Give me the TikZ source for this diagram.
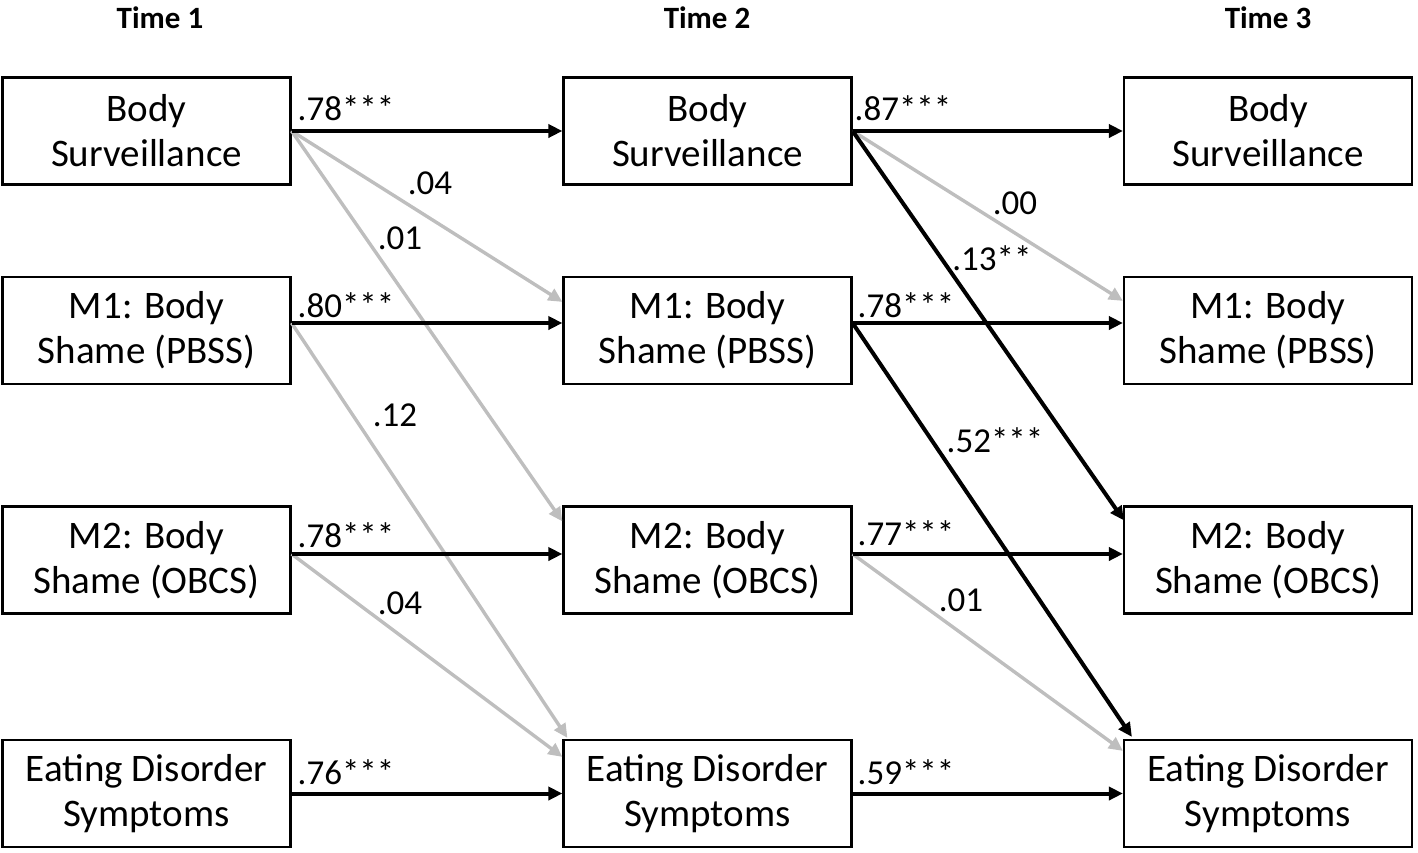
\documentclass[tikz,border=0pt]{standalone}
\usepackage{fontspec}
\setmainfont{Carlito}
\usetikzlibrary{arrows.meta}
\definecolor{lightpath}{RGB}{190,190,190}
\tikzset{
  box/.style={draw=black, line width=1.1pt, minimum width=144pt, minimum height=53.5pt, align=center, inner sep=0pt, font=\fontsize{19.5}{22.5}\selectfont},
  coef/.style={font=\fontsize{17.5}{20}\selectfont, inner sep=0pt},
  ttl/.style={font=\fontsize{15.5}{18}\selectfont\bfseries, inner sep=0pt},
  blk/.style={draw=black, line width=2pt, -{Triangle[length=7pt,width=6.5pt]}},
  gry/.style={draw=lightpath, line width=1.7pt, -{Triangle[length=7pt,width=6.5pt]}, color=lightpath},
}
\begin{document}
\begin{tikzpicture}[x=0.5pt,y=-0.5pt]
\useasboundingbox (0,0) rectangle (1418,852);
% titles
\node[ttl] (t1) at (160,18) {Time 1};
\node[ttl] (t2) at (707,18) {Time 2};
\node[ttl] (t3) at (1268,18) {Time 3};
% boxes
\foreach \c/\x in {a/146.5,b/707.5,c/1268}{
  \node[box] (\c1) at (\x,131) {Body\\Surveillance};
  \node[box] (\c2) at (\x,330.5) {M1: Body\\Shame (PBSS)};
  \node[box] (\c3) at (\x,560) {M2: Body\\Shame (OBCS)};
  \node[box] (\c4) at (\x,793.5) {Eating Disorder\\Symptoms};
}
% anchor points (y offsets relative to centre)
\foreach \c in {a,b,c}{
  \coordinate (\c1o) at (\c1.east);
  \coordinate (\c2o) at ([yshift=3.75pt]\c2.east);
  \coordinate (\c3o) at ([yshift=3pt]\c3.east);
  \coordinate (\c4o) at (\c4.east);
  \coordinate (\c1i) at (\c1.west);
  \coordinate (\c2i) at ([yshift=3.75pt]\c2.west);
  \coordinate (\c3i) at ([yshift=3pt]\c3.west);
  \coordinate (\c4i) at (\c4.west);
}
% diagonal entry points
\coordinate (b2d) at ([yshift=-13pt]b2.north west);
\coordinate (b3d) at ([yshift=-8pt]b3.north west);
\coordinate (b4d1) at ([xshift=2.5pt,yshift=0.5pt]b4.north west);
\coordinate (b4d2) at ([yshift=-9pt]b4.north west);
\coordinate (c2d) at ([yshift=-12.5pt]c2.north west);
\coordinate (c3d) at ([xshift=0.5pt,yshift=-7.5pt]c3.north west);
\coordinate (c4d1) at ([xshift=4.5pt,yshift=1pt]c4.north west);
\coordinate (c4d2) at ([yshift=-6pt]c4.north west);
% gray paths
\draw[gry] (a1o) -- (b2d);
\draw[gry] (a1o) -- (b3d);
\draw[gry] (a2o) -- (b4d1);
\draw[gry] (a3o) -- (b4d2);
\draw[gry] (b1o) -- (c2d);
\draw[gry] (b3o) -- (c4d2);
% black paths
\draw[blk] (b1o) -- (c3d);
\draw[blk] (b2o) -- (c4d1);
\foreach \r in {1,2,3,4}{
  \draw[blk] (a\r o) -- (b\r i);
  \draw[blk] (b\r o) -- (c\r i);
}
% coefficients
\node[coef] (l1) at (346,108) {.78***};
\node[coef] (l2) at (903,108) {.87***};
\node[coef] (l3) at (430,183) {.04};
\node[coef] (l4) at (400,238) {.01};
\node[coef] (l5) at (1015,203) {.00};
\node[coef] (l6) at (992,258) {.13**};
\node[coef] (l7) at (346,305) {.80***};
\node[coef] (l8) at (906,305) {.78***};
\node[coef] (l9) at (395,415) {.12};
\node[coef] (l10) at (995,440) {.52***};
\node[coef] (l11) at (346,535) {.78***};
\node[coef] (l12) at (906,533) {.77***};
\node[coef] (l13) at (400,603) {.04};
\node[coef] (l14) at (961,600) {.01};
\node[coef] (l15) at (346,772) {.76***};
\node[coef] (l16) at (906,772) {.59***};
\end{tikzpicture}
\end{document}
